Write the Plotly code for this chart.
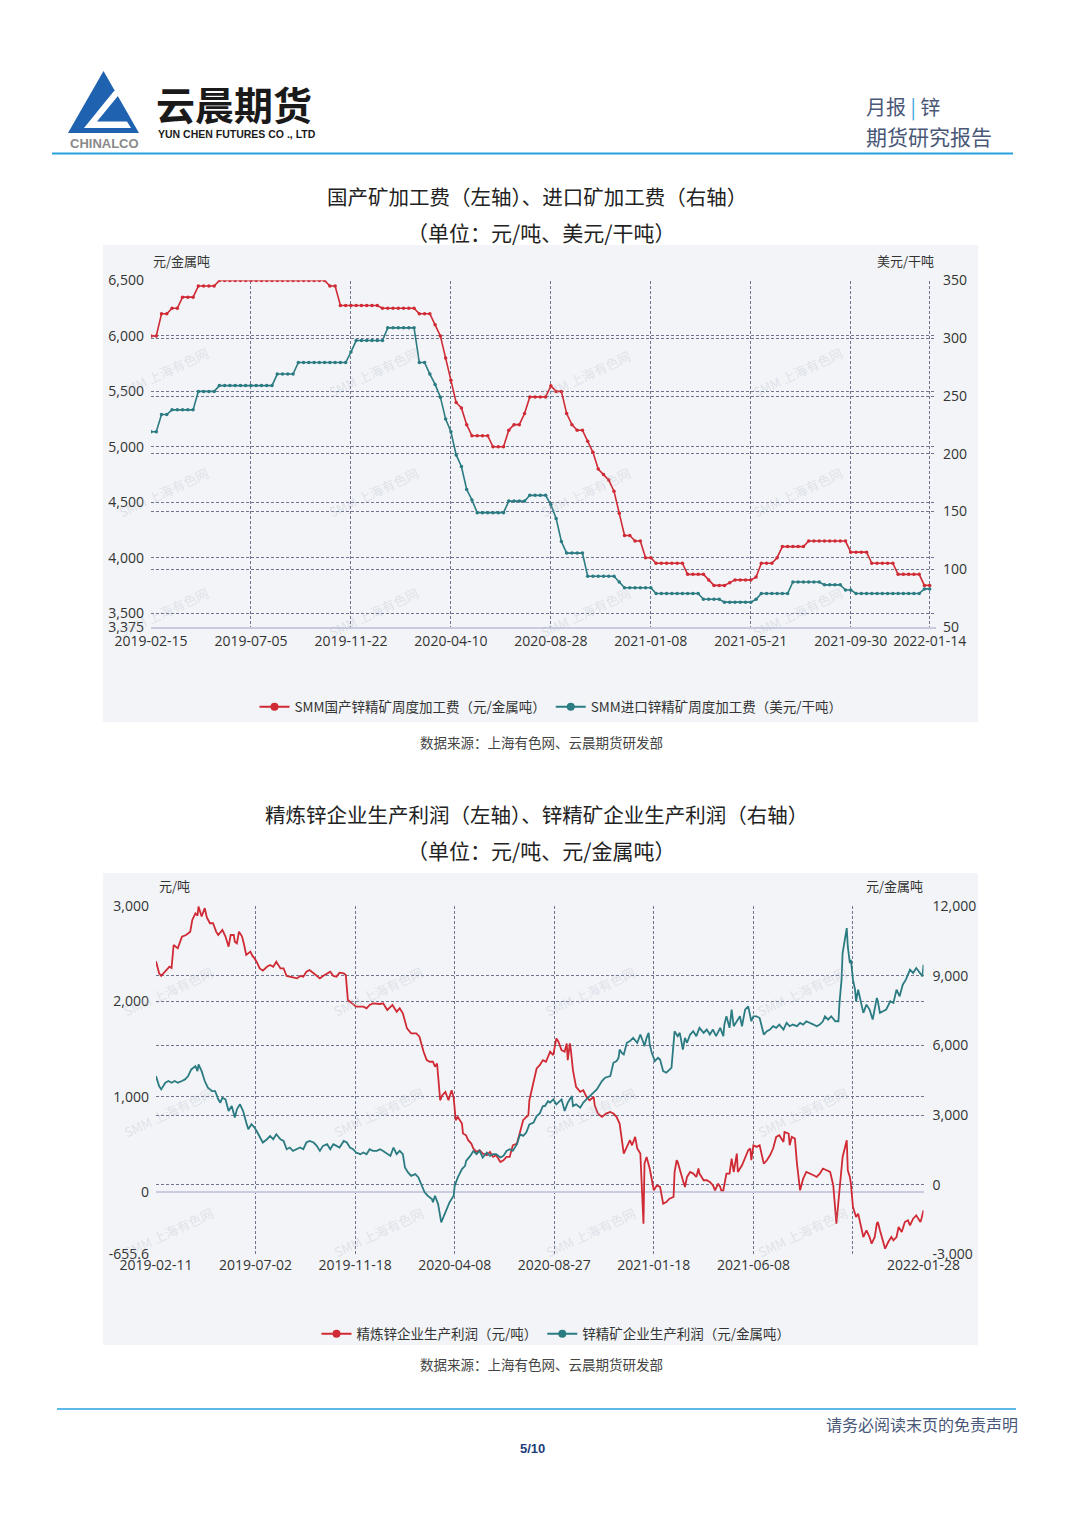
import plotly.graph_objects as go

W, H = 1080, 1526
def px(x): return x / W
def py(y): return 1 - y / H

CJK = "Noto Sans CJK SC"
NUM = "Open Sans"
RED = "#d02a35"
TEAL = "#2b7b82"
GRID = "#6f7591"
PANEL = "#f2f4f7"
TXT = "#333333"

# ---------------- Chart 1 data (weekly) ----------------
c1_tick_idx = [0, 19, 38, 57, 76, 95, 114, 133, 148]
c1_tick_labels = ["2019-02-15", "2019-07-05", "2019-11-22", "2020-04-10", "2020-08-28",
                  "2021-01-08", "2021-05-21", "2021-09-30", "2022-01-14"]
domestic_tc = [
    6000, 6000, 6200, 6200, 6250, 6250, 6350, 6350, 6350, 6450, 6450, 6450, 6450,
    6500, 6500, 6500, 6500, 6500, 6500, 6500, 6500, 6500, 6500, 6500, 6500, 6500, 6500,
    6500, 6500, 6500, 6500, 6500, 6500, 6500,
    6450, 6450,
    6275, 6275, 6275, 6275, 6275, 6275, 6275, 6275,
    6250, 6250, 6250, 6250, 6250, 6250, 6250,
    6200, 6200, 6200,
    6100, 6000, 5800, 5600, 5400, 5350, 5200,
    5100, 5100, 5100, 5100,
    5000, 5000, 5000,
    5150, 5200, 5200, 5300,
    5450, 5450, 5450, 5450,
    5550, 5500, 5500, 5300, 5200, 5150, 5150, 5050, 4950, 4800, 4750, 4700, 4600, 4400,
    4200, 4200, 4150, 4150, 4000, 4000,
    3950, 3950, 3950, 3950, 3950, 3950,
    3850, 3850, 3850, 3850,
    3800, 3750, 3750, 3750, 3775, 3800, 3800, 3800, 3800, 3825, 3950, 3950, 3950, 4000,
    4100, 4100, 4100, 4100, 4100,
    4150, 4150, 4150, 4150, 4150, 4150, 4150, 4150,
    4050, 4050, 4050, 4050,
    3950, 3950, 3950, 3950, 3950,
    3850, 3850, 3850, 3850, 3850,
    3750, 3750,
]
import_tc = [
    219, 219, 234, 234, 238, 238, 238, 238, 238, 254, 254, 254, 254,
    259, 259, 259, 259, 259, 259, 259, 259, 259, 259, 259,
    269, 269, 269, 269,
    279, 279, 279, 279, 279, 279, 279, 279, 279, 279,
    288,
    298, 298, 298, 298, 298, 298,
    309, 309, 309, 309, 309, 309,
    279, 279, 269, 260, 249, 230, 219, 199, 189, 169, 160,
    149, 149, 149, 149, 149, 149,
    159, 159, 159, 159,
    164, 164, 164, 164,
    156, 144, 124, 114, 114, 114, 114,
    94, 94, 94, 94, 94, 94,
    89,
    84, 84, 84, 84, 84, 84,
    79, 79, 79, 79, 79, 79, 79, 79, 79,
    74, 74, 74, 74,
    71.5, 71.5, 71.5, 71.5, 71.5, 71.5,
    74,
    79, 79, 79, 79, 79, 79,
    89, 89, 89, 89, 89, 89,
    86.5, 86.5, 86.5, 86.5,
    82, 82,
    79, 79, 79, 79, 79, 79, 79, 79, 79, 79, 79, 79, 79,
    83, 83,
]
c1_left_ticks = [3375, 3500, 4000, 4500, 5000, 5500, 6000, 6500]
c1_left_labels = ["3,375", "3,500", "4,000", "4,500", "5,000", "5,500", "6,000", "6,500"]
c1_right_ticks = [50, 100, 150, 200, 250, 300, 350]

# ---------------- Chart 2 data (daily, sampled) ----------------
c2_tick_idx = [0, 96, 192, 288, 384, 480, 576, 672, 740]
c2_tick_labels = ["2019-02-11", "2019-07-02", "2019-11-18", "2020-04-08", "2020-08-27",
                  "2021-01-18", "2021-06-08", "", "2022-01-28"]
smelter_idx = [0, 3, 5, 10, 13, 15, 17, 21, 25, 29, 33, 35, 38, 40, 41, 44, 47, 49, 52, 55, 58, 60, 64, 67, 70, 72, 75, 76, 78, 80, 83, 85, 87, 91, 93, 95, 97, 100, 103, 107, 110, 113, 116, 120, 123, 126, 131, 136, 139, 142, 145, 148, 152, 158, 161, 165, 168, 171, 174, 177, 181, 183, 185, 189, 193, 200, 203, 206, 209, 216, 219, 223, 226, 228, 232, 235, 238, 242, 246, 251, 254, 258, 261, 264, 267, 269, 271, 274, 276, 279, 282, 285, 287, 289, 291, 295, 296, 299, 301, 304, 306, 309, 312, 315, 319, 322, 325, 328, 332, 335, 338, 341, 344, 348, 351, 354, 357, 359, 360, 364, 367, 370, 373, 376, 378, 380, 383, 386, 388, 391, 394, 396, 397, 399, 400, 402, 405, 409, 412, 415, 418, 422, 423, 426, 430, 434, 438, 441, 444, 447, 451, 454, 457, 459, 462, 464, 467, 468, 470, 471, 473, 476, 478, 480, 483, 486, 489, 492, 495, 499, 500, 502, 503, 505, 507, 508, 510, 512, 515, 518, 521, 523, 524, 528, 531, 534, 537, 539, 542, 544, 545, 547, 550, 553, 555, 557, 560, 561, 565, 568, 571, 573, 574, 576, 579, 582, 586, 589, 592, 595, 598, 601, 605, 606, 610, 611, 613, 616, 618, 621, 624, 627, 631, 634, 637, 640, 643, 646, 650, 653, 656, 659, 662, 666, 667, 669, 670, 672, 675, 677, 679, 680, 682, 685, 688, 690, 693, 695, 696, 698, 700, 703, 706, 709, 711, 714, 716, 719, 722, 725, 727, 730, 733, 737, 738, 740]
smelter_profit = [2420, 2294, 2266, 2329, 2363, 2350, 2591, 2556, 2679, 2696, 2731, 2854, 2924, 2900, 2994, 2890, 2977, 2880, 2819, 2819, 2731, 2696, 2749, 2680, 2573, 2696, 2696, 2626, 2608, 2731, 2679, 2591, 2486, 2521, 2476, 2451, 2416, 2346, 2322, 2363, 2381, 2363, 2416, 2346, 2346, 2266, 2252, 2241, 2266, 2259, 2311, 2329, 2294, 2241, 2266, 2294, 2311, 2266, 2259, 2301, 2294, 2276, 2014, 1979, 1944, 1944, 1927, 1962, 1979, 1972, 1979, 1909, 1944, 1962, 1891, 1927, 1874, 1716, 1664, 1664, 1629, 1471, 1383, 1366, 1366, 1314, 1348, 962, 1015, 1050, 962, 1067, 990, 752, 787, 718, 613, 595, 543, 508, 456, 420, 438, 403, 385, 420, 368, 385, 315, 333, 368, 368, 490, 508, 630, 753, 787, 805, 963, 1173, 1296, 1330, 1383, 1366, 1420, 1471, 1436, 1611, 1576, 1488, 1471, 1558, 1383, 1559, 1488, 1278, 1103, 1050, 1067, 998, 962, 997, 910, 823, 788, 823, 840, 823, 788, 718, 403, 473, 543, 490, 578, 456, 403, 158, -332, 298, 368, 246, 141, 18, 70, 53, -122, -105, -70, -52, 210, 333, 315, 228, 158, 123, 53, 158, 210, 193, 158, 246, 193, 123, 123, 105, 70, 18, 88, 53, 18, 18, 193, 193, 351, 210, 403, 210, 280, 368, 438, 456, 333, 490, 473, 490, 298, 333, 385, 456, 578, 595, 525, 630, 613, 490, 578, 560, 298, 18, 141, 210, 193, 176, 158, 193, 246, 228, 210, 70, -332, 18, 368, 543, 228, 158, 88, -157, -262, -227, -332, -367, -472, -402, -472, -542, -472, -332, -315, -402, -472, -595, -525, -472, -507, -472, -367, -420, -315, -297, -350, -280, -245, -315, -280, -192]
mine_idx = [0, 3, 5, 9, 12, 15, 18, 21, 25, 28, 31, 34, 38, 40, 41, 44, 47, 50, 54, 57, 60, 62, 64, 67, 70, 73, 76, 78, 81, 84, 87, 89, 92, 95, 97, 100, 103, 107, 110, 113, 116, 120, 123, 126, 129, 132, 136, 139, 142, 145, 148, 152, 155, 158, 161, 165, 168, 171, 174, 177, 181, 184, 187, 190, 193, 197, 200, 203, 206, 209, 213, 216, 219, 223, 226, 229, 232, 235, 238, 240, 243, 246, 250, 253, 256, 259, 262, 266, 267, 269, 272, 274, 275, 277, 280, 283, 287, 288, 291, 295, 298, 299, 303, 306, 309, 312, 315, 319, 322, 325, 328, 332, 335, 338, 341, 344, 348, 351, 354, 357, 360, 364, 367, 370, 373, 375, 378, 380, 383, 386, 391, 394, 397, 401, 402, 405, 409, 412, 415, 418, 422, 425, 430, 433, 438, 441, 444, 446, 447, 449, 451, 454, 457, 460, 464, 467, 470, 471, 473, 475, 476, 478, 481, 484, 486, 489, 492, 495, 497, 500, 503, 505, 508, 510, 512, 515, 518, 521, 524, 528, 531, 534, 537, 540, 544, 547, 548, 550, 553, 555, 557, 560, 563, 565, 568, 571, 573, 574, 576, 579, 582, 586, 589, 592, 595, 598, 601, 605, 608, 611, 614, 618, 621, 624, 627, 631, 634, 637, 640, 643, 645, 648, 651, 655, 658, 659, 661, 662, 666, 667, 669, 670, 672, 674, 675, 677, 679, 682, 685, 688, 691, 695, 696, 698, 701, 704, 708, 711, 714, 717, 720, 723, 727, 730, 733, 737, 739, 740]
mine_profit = [4678, 4249, 4107, 4395, 4466, 4395, 4466, 4395, 4466, 4536, 4678, 4966, 5107, 4893, 5180, 4893, 4466, 4178, 4036, 4036, 3678, 3536, 3750, 3678, 3176, 3390, 2893, 3250, 3463, 3176, 2678, 2391, 2607, 2462, 2318, 2034, 1820, 1961, 2103, 1961, 2176, 1961, 1890, 1532, 1605, 1459, 1532, 1605, 1532, 1820, 1888, 1820, 1676, 1459, 1676, 1747, 1532, 1747, 1676, 1605, 1888, 1820, 1605, 1532, 1390, 1317, 1390, 1317, 1532, 1459, 1459, 1532, 1459, 1317, 1245, 1605, 1317, 1459, 1317, 746, 532, 386, 460, 318, -43, -326, -470, -612, -755, -470, -830, -1472, -1614, -1400, -1043, -755, -472, -43, 318, 674, 817, 1030, 1245, 1459, 1317, 1459, 1176, 1390, 1245, 1317, 1317, 1176, 1245, 1459, 1532, 1459, 1747, 2176, 2105, 2250, 2600, 2678, 2961, 3070, 3390, 3390, 3600, 3536, 3678, 3463, 3678, 3176, 3536, 3820, 3390, 3463, 3318, 3536, 3678, 3820, 3965, 4107, 4464, 4610, 4678, 5253, 5322, 5465, 5824, 5682, 5610, 6112, 6183, 6326, 6112, 6468, 6112, 5968, 6326, 6541, 6040, 5682, 5322, 5465, 5395, 4893, 4822, 4965, 5036, 6609, 6397, 6541, 5824, 6326, 6112, 6468, 6609, 6397, 6755, 6541, 6683, 6468, 6683, 6397, 6755, 6397, 6897, 7253, 6755, 7541, 6826, 7040, 7253, 6826, 7541, 7682, 7253, 7040, 7253, 7253, 7180, 6468, 6609, 6683, 6826, 6755, 6897, 6683, 6970, 6826, 6897, 6826, 6970, 6897, 7039, 6970, 6897, 6826, 6897, 7039, 7253, 7110, 7253, 7040, 7040, 7828, 8828, 9974, 11047, 10260, 9545, 9686, 8828, 8399, 7897, 8399, 8040, 7399, 7755, 7541, 7112, 8043, 7900, 7399, 7470, 7541, 7900, 7828, 8399, 8113, 8613, 8828, 9258, 9115, 9330, 9115, 8970, 9472]
c2_left_ticks = [-655.6, 0, 1000, 2000, 3000]
c2_left_labels = ["-655.6", "0", "1,000", "2,000", "3,000"]
c2_right_ticks = [-3000, 0, 3000, 6000, 9000, 12000]
c2_right_labels = ["-3,000", "0", "3,000", "6,000", "9,000", "12,000"]

names1 = ["SMM国产锌精矿周度加工费（元/金属吨）", "SMM进口锌精矿周度加工费（美元/干吨）"]
names2 = ["精炼锌企业生产利润（元/吨）", "锌精矿企业生产利润（元/金属吨）"]

fig = go.Figure()
wk = list(range(len(domestic_tc)))
fig.add_trace(go.Scatter(x=wk, y=domestic_tc, xaxis="x", yaxis="y", mode="lines+markers",
                         line=dict(color=RED, width=1.6), marker=dict(size=3.5, color=RED),
                         showlegend=False))
fig.add_trace(go.Scatter(x=wk, y=import_tc, xaxis="x", yaxis="y2", mode="lines+markers",
                         line=dict(color=TEAL, width=1.6), marker=dict(size=3.5, color=TEAL),
                         showlegend=False))
fig.add_trace(go.Scatter(x=mine_idx, y=mine_profit, xaxis="x2", yaxis="y4", mode="lines",
                         line=dict(color=TEAL, width=1.8), showlegend=False))
fig.add_trace(go.Scatter(x=smelter_idx, y=smelter_profit, xaxis="x2", yaxis="y3", mode="lines",
                         line=dict(color=RED, width=1.8), showlegend=False))
# legend entries
for nm, col, ya in [(names1[0], RED, "y"), (names1[1], TEAL, "y2")]:
    fig.add_trace(go.Scatter(x=[None], y=[None], xaxis="x", yaxis=ya, mode="lines+markers", name=nm,
                             line=dict(color=col, width=2), marker=dict(size=8, color=col), legend="legend"))
for nm, col, ya in [(names2[0], RED, "y3"), (names2[1], TEAL, "y4")]:
    fig.add_trace(go.Scatter(x=[None], y=[None], xaxis="x2", yaxis=ya, mode="lines+markers", name=nm,
                             line=dict(color=col, width=2), marker=dict(size=8, color=col), legend="legend2"))

tickfont = dict(family=NUM, size=14, color=TXT)
gridkw = dict(showgrid=True, gridcolor=GRID, gridwidth=1, griddash="3px,2px", zeroline=False, ticks="",
              automargin=False)

fig.update_layout(
    template="none",
    width=W, height=H, autosize=False, margin=dict(l=0, r=0, t=0, b=0, pad=0, autoexpand=False),
    paper_bgcolor="white", plot_bgcolor="rgba(0,0,0,0)",
    xaxis=dict(domain=[px(151), px(936)], range=[0, 149.2], anchor="y",
               tickmode="array", tickvals=c1_tick_idx + [149.2], ticktext=c1_tick_labels + [""],
               tickangle=0, showline=True, linecolor="#c9cbe0", linewidth=1.5, tickfont=tickfont, **gridkw),
    yaxis=dict(domain=[py(627), py(280.5)], range=[3375, 6500], anchor="x",
               tickmode="array", tickvals=c1_left_ticks, ticktext=c1_left_labels,
               tickfont=tickfont, ticklabelstandoff=6, showline=False, **gridkw),
    yaxis2=dict(overlaying="y", side="right", anchor="x", range=[50, 350],
                tickmode="array", tickvals=c1_right_ticks, ticktext=[str(v) for v in c1_right_ticks],
                tickfont=tickfont, ticklabelstandoff=6, showline=False, **gridkw),
    xaxis2=dict(domain=[px(156), px(923.5)], range=[0, 740], anchor="y3",
                tickmode="array", tickvals=c2_tick_idx, ticktext=c2_tick_labels,
                tickangle=0, showline=False, tickfont=tickfont, **gridkw),
    yaxis3=dict(domain=[py(1254.5), py(906)], range=[-655.6, 3000], anchor="x2",
                tickmode="array", tickvals=c2_left_ticks, ticktext=c2_left_labels,
                tickfont=tickfont, ticklabelstandoff=6, showline=False, automargin=False,
                showgrid=True, gridcolor=GRID, gridwidth=1, griddash="3px,2px", ticks="",
                zeroline=True, zerolinecolor="#c9cbe0", zerolinewidth=1.5),
    yaxis4=dict(overlaying="y3", side="right", anchor="x2", range=[-3000, 12000],
                tickmode="array", tickvals=c2_right_ticks, ticktext=c2_right_labels,
                tickfont=tickfont, ticklabelstandoff=8, showline=False, **gridkw),
    legend=dict(orientation="h", x=px(551), xanchor="center", y=py(707), yanchor="middle",
                bgcolor="rgba(0,0,0,0)", font=dict(family=CJK, size=13.5, color=TXT), itemwidth=30),
    legend2=dict(orientation="h", x=px(556), xanchor="center", y=py(1334), yanchor="middle",
                 bgcolor="rgba(0,0,0,0)", font=dict(family=CJK, size=13.5, color=TXT), itemwidth=30),
)

shapes = []
# grey chart panels
for (y0, y1) in [(245, 722), (873, 1345)]:
    shapes.append(dict(type="rect", xref="paper", yref="paper", x0=px(103), x1=px(978),
                       y0=py(y1), y1=py(y0), fillcolor=PANEL, line=dict(width=0), layer="below"))
# header / footer rules
shapes.append(dict(type="line", xref="paper", yref="paper", x0=px(52), x1=px(1013), y0=py(153.5), y1=py(153.5),
                   line=dict(color="#26a1de", width=2)))
shapes.append(dict(type="line", xref="paper", yref="paper", x0=px(57), x1=px(1016), y0=py(1409), y1=py(1409),
                   line=dict(color="#26a1de", width=1.5)))
# logo triangle and white L
def path(pts):
    return "M " + " L ".join(f"{px(x):.5f},{py(y):.5f}" for x, y in pts) + " Z"
shapes.append(dict(type="path", xref="paper", yref="paper",
                   path=path([(103.5, 71), (139, 133), (68, 133)]),
                   fillcolor="#1f62b0", line=dict(width=0)))
shapes.append(dict(type="path", xref="paper", yref="paper",
                   path=path([(114, 91), (122, 91), (97, 121.5), (127, 121.5), (131, 128), (84, 128)]),
                   fillcolor="white", line=dict(width=0)))
fig.update_layout(shapes=shapes)

def ann(text, x, y, size, color=TXT, family=CJK, xanchor="center", **kw):
    d = dict(text=text, x=px(x), y=py(y), xref="paper", yref="paper", showarrow=False,
             xanchor=xanchor, yanchor="middle", font=dict(family=family, size=size, color=color))
    d.update(kw)
    return d

annotations = []
# watermarks
for (cx, cy) in [(163, 372), (373, 372), (585, 375), (797, 372),
                 (163, 492), (373, 492), (585, 492), (797, 492),
                 (163, 612), (373, 612), (585, 612), (797, 612),
                 (168, 992), (378, 992), (590, 992), (802, 992),
                 (168, 1112), (378, 1112), (590, 1112), (802, 1112),
                 (168, 1232), (378, 1232), (590, 1232), (802, 1232)]:
    annotations.append(ann("SMM 上海有色网", cx, cy, 13, color="rgba(170,176,195,0.28)", textangle=-25))

annotations += [
    ann("<b>云晨期货</b>", 154, 103, 39, color="#1a1a1a", xanchor="left"),
    ann("<b>YUN CHEN FUTURES CO ., LTD</b>", 156, 134, 10.5, color="#1a1a1a", family="Liberation Sans", xanchor="left"),
    ann("<b>CHINALCO</b>", 104, 144, 13, color="#8a8a8a", family="Liberation Sans"),
    ann("月报 <span style='color:#3aa6de'>|</span> 锌", 864, 107, 20, color="#4a5878", xanchor="left"),
    ann("期货研究报告", 864, 136, 21, color="#4a5878", xanchor="left"),
    ann("国产矿加工费（左轴）、进口矿加工费（右轴）", 537, 196, 20.5, color="#222222"),
    ann("（单位：元/吨、美元/干吨）", 541, 232, 21, color="#222222"),
    ann("元/金属吨", 151, 260, 13, xanchor="left"),
    ann("美元/干吨", 936, 260, 13, xanchor="right"),
    ann("数据来源：上海有色网、云晨期货研发部", 541, 742, 13.5, color="#444444"),
    ann("精炼锌企业生产利润（左轴）、锌精矿企业生产利润（右轴）", 536, 814, 20.5, color="#222222"),
    ann("（单位：元/吨、元/金属吨）", 541, 850, 21, color="#222222"),
    ann("元/吨", 157, 885, 13, xanchor="left"),
    ann("元/金属吨", 925, 885, 13, xanchor="right"),
    ann("数据来源：上海有色网、云晨期货研发部", 541, 1364, 13.5, color="#444444"),
    ann("请务必阅读末页的免责声明", 1020, 1424, 16, color="#4a5878", xanchor="right"),
    ann("<b>5/10</b>", 532, 1448, 13, color="#1f3d7a", family="Liberation Sans"),
]
fig.update_layout(annotations=annotations)

fig.write_html("out.html")
